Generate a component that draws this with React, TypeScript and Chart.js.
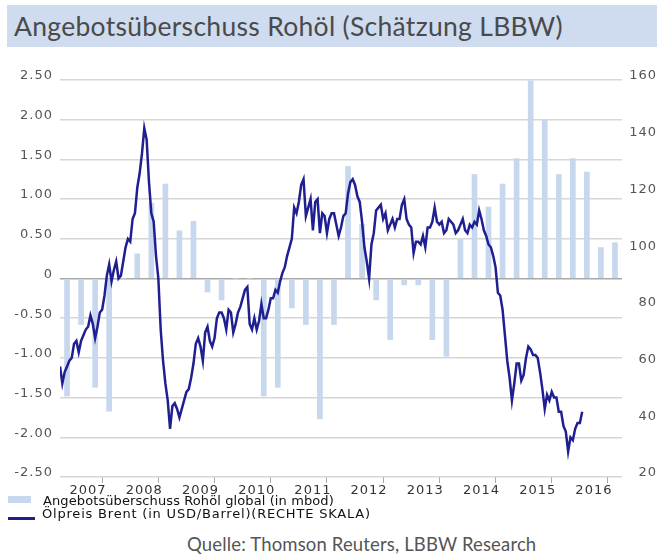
import React, { useEffect, useRef } from 'react';
import { Chart, registerables } from 'chart.js';

Chart.register(...registerables);

// ---- data ----
const years = ['2007', '2008', '2009', '2010', '2011', '2012', '2013', '2014', '2015', '2016'];
const firstYear = 2007;
const lastYear = 2017;

// quarterly supply surplus (mbod), Q1 2007 .. Q4 2016
const supplySurplus = [
  -1.48, -0.58, -1.37, -1.67, // 2007
  0, 0.31, 0.95, 1.19, // 2008
  0.6, 0.72, -0.17, -0.27, // 2009
  0, 0, -1.48, -1.37, // 2010
  -0.37, -0.58, -1.77, -0.58, // 2011
  1.41, 0.68, -0.27, -0.77, // 2012
  -0.08, -0.08, -0.77, -0.98, // 2013
  0.49, 1.31, 0.9, 1.19, // 2014
  1.51, 2.49, 2.0, 1.31, // 2015
  1.51, 1.34, 0.39, 0.45, // 2016
];
const quartersPerYear = 4;

// Brent (USD/bbl), twice a month (1st and 15th), Jan 2007 .. Apr 2016
const brent2007 = [59, 53, 57, 59, 61, 62, 67, 68, 64, 68, 70, 72, 73, 77, 74, 69, 73, 78, 79, 84, 91, 95, 89, 93];
const brent2008 = [96, 90, 91, 96, 101, 104, 103, 111, 113, 122, 127, 134, 143, 139, 124, 113, 110, 98, 90, 72, 61, 53, 47, 37];
const brent2009 = [45, 46, 44, 41, 44, 47, 50, 51, 55, 60, 67, 69, 66, 61, 71, 73, 68, 66, 69, 76, 78, 78, 76, 72];
const brent2010 = [79, 78, 71, 74, 78, 80, 83, 86, 87, 74, 72, 76, 72, 75, 81, 76, 76, 79, 83, 83, 86, 85, 89, 92];
const brent2011 = [94, 98, 101, 104, 115, 113, 117, 123, 125, 112, 115, 118, 107, 117, 118, 106, 113, 112, 106, 111, 113, 113, 109, 105];
const brent2012 = [108, 112, 113, 120, 124, 125, 123, 119, 117, 110, 101, 96, 90, 102, 106, 114, 115, 116, 111, 113, 107, 109, 111, 108];
const brent2013 = [111, 111, 116, 118, 111, 109, 108, 99, 103, 103, 102, 105, 101, 108, 108, 110, 115, 110, 109, 110, 106, 107, 111, 110];
const brent2014 = [109, 106, 107, 109, 111, 107, 106, 109, 108, 110, 109, 114, 111, 107, 105, 102, 101, 98, 94, 85, 84, 79, 70, 61];
const brent2015 = [55, 47, 53, 60, 60, 54, 56, 62, 66, 65, 63, 63, 62, 57, 51, 44, 49, 47, 50, 48, 48, 43, 43, 38];
const brent2016 = [36, 29, 34, 33, 37, 39, 39, 43];
const brentPerYear = 24;
const brent = [
  ...brent2007, ...brent2008, ...brent2009, ...brent2010, ...brent2011,
  ...brent2012, ...brent2013, ...brent2014, ...brent2015, ...brent2016,
];

const leftMin = -2.5;
const leftMax = 2.5;
const leftStep = 0.5;
const rightMin = 20;
const rightMax = 160;
const rightStep = 20;

const title = 'Angebotsüberschuss Rohöl (Schätzung LBBW)';
const barLabel = 'Angebotsüberschuss Rohöl global (in mbod)';
const lineLabel = 'Ölpreis Brent (in USD/Barrel)(RECHTE SKALA)';
const source = 'Quelle: Thomson Reuters, LBBW Research';

const BAR_COLOR = '#c6d7ee';
const LINE_COLOR = '#1f1f92';

function isWhole(v: number) {
  return Math.abs(v - Math.round(v)) < 1e-6;
}

export default function App() {
  const ref = useRef<HTMLCanvasElement | null>(null);

  useEffect(() => {
    if (!ref.current) return;
    const barData = supplySurplus.map((v, i) => ({ x: firstYear + (i + 0.5) / quartersPerYear, y: v }));
    const lineData = brent.map((v, i) => ({ x: firstYear + i / brentPerYear, y: v }));

    const spacing = {
      id: 'spacing',
      beforeDraw(chart: any) {
        chart.ctx.letterSpacing = '1px';
      },
    };

    const chart = new Chart(ref.current, {
      type: 'bar',
      data: {
        datasets: [
          {
            type: 'line',
            label: lineLabel,
            data: lineData,
            xAxisID: 'x',
            yAxisID: 'y1',
            borderColor: LINE_COLOR,
            borderWidth: 2.5,
            pointRadius: 0,
            tension: 0,
            order: 0,
          } as any,
          {
            type: 'bar',
            label: barLabel,
            data: barData,
            xAxisID: 'x',
            yAxisID: 'y',
            backgroundColor: BAR_COLOR,
            barThickness: 5,
            order: 1,
          } as any,
        ],
      },
      options: {
        animation: false,
        responsive: false,
        maintainAspectRatio: false,
        layout: { padding: { top: 20, left: 0, right: 0, bottom: 0 } },
        plugins: { legend: { display: false }, tooltip: { enabled: false } },
        scales: {
          x: {
            type: 'linear',
            min: firstYear,
            max: lastYear,
            offset: false,
            afterBuildTicks: (scale: any) => {
              const t: any[] = [];
              years.forEach((y, i) => {
                t.push({ value: firstYear + i });
                t.push({ value: firstYear + i + 0.5 });
              });
              t.push({ value: lastYear });
              scale.ticks = t;
            },
            afterFit: (scale: any) => {
              scale.height = 23;
            },
            ticks: {
              autoSkip: false,
              maxRotation: 0,
              padding: 0,
              color: '#333',
              font: { family: 'DejaVu Sans', size: 13 },
              callback: (value: any) => {
                const v = Number(value);
                const idx = Math.floor(v - firstYear);
                return isWhole(v) ? '' : years[idx];
              },
            },
            grid: {
              drawOnChartArea: false,
              drawTicks: true,
              tickLength: 6,
              tickColor: (ctx: any) =>
                ctx && ctx.tick && isWhole(ctx.tick.value) ? '#aaaaaa' : 'rgba(0,0,0,0)',
              tickWidth: 1,
            },
            border: { display: false },
          },
          y: {
            type: 'linear',
            position: 'left',
            min: leftMin,
            max: leftMax,
            afterFit: (scale: any) => {
              scale.width = 60;
            },
            ticks: {
              stepSize: leftStep,
              padding: 7,
              labelOffset: -4,
              color: '#555',
              font: { family: 'DejaVu Sans', size: 13 },
              callback: (value: any) => (Number(value) === 0 ? '0' : Number(value).toFixed(2)),
            },
            grid: {
              drawTicks: false,
              lineWidth: 1.5,
              color: (ctx: any) => (ctx && ctx.tick && ctx.tick.value === 0 ? '#a8a8a8' : '#d6d6d6'),
            },
            border: { display: false },
          },
          y1: {
            type: 'linear',
            position: 'right',
            min: rightMin,
            max: rightMax,
            afterFit: (scale: any) => {
              scale.width = 35;
            },
            ticks: {
              stepSize: rightStep,
              padding: 3,
              labelOffset: -4,
              crossAlign: 'far',
              color: '#555',
              font: { family: 'DejaVu Sans', size: 13 },
            },
            grid: { display: false, drawTicks: false },
            border: { display: false },
          },
        },
      },
      plugins: [spacing],
    } as any);
    return () => chart.destroy();
  }, []);

  return (
    <div style={{ position: 'absolute', left: 0, top: 0, width: 657, height: 555, background: '#fff', overflow: 'hidden' }}>
      <div
        style={{
          position: 'absolute', left: 7, top: 5, width: 650, height: 42, background: '#cfdcf0',
          color: '#4a4a4a', fontFamily: 'Lato, sans-serif', fontSize: 26.5, letterSpacing: '0.3px',
          lineHeight: '42px', paddingLeft: 7, boxSizing: 'border-box', whiteSpace: 'nowrap',
        }}
      >
        {title}
      </div>
      <div style={{ position: 'absolute', left: 0, top: 60, width: 657, height: 440 }}>
        <canvas ref={ref} width={657} height={440} style={{ width: 657, height: 440 }} />
      </div>
      <div style={{ position: 'absolute', left: 8, top: 496, width: 23, height: 7, background: BAR_COLOR }} />
      <div
        style={{
          position: 'absolute', left: 43, top: 494, fontFamily: 'DejaVu Sans, sans-serif', fontSize: 13,
          letterSpacing: '0.1px', lineHeight: '14px', color: '#111', whiteSpace: 'nowrap',
        }}
      >
        {barLabel}
      </div>
      <div style={{ position: 'absolute', left: 8, top: 517, width: 27, height: 2.5, background: LINE_COLOR }} />
      <div
        style={{
          position: 'absolute', left: 42, top: 507, fontFamily: 'DejaVu Sans, sans-serif', fontSize: 13,
          letterSpacing: '0.8px', lineHeight: '14px', color: '#111', whiteSpace: 'nowrap',
        }}
      >
        {lineLabel}
      </div>
      <div
        style={{
          position: 'absolute', left: 187, top: 533, fontFamily: 'Lato, sans-serif', fontSize: 18.5,
          letterSpacing: '0.15px', lineHeight: '22px', color: '#555', whiteSpace: 'nowrap',
        }}
      >
        {source}
      </div>
    </div>
  );
}
